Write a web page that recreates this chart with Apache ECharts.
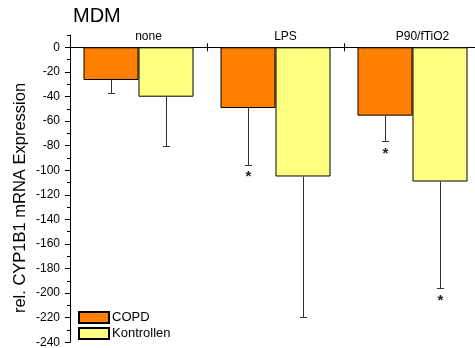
<!DOCTYPE html>
<html><head><meta charset="utf-8">
<script src="https://cdn.jsdelivr.net/npm/echarts@6/dist/echarts.min.js"></script>
<style>html,body{margin:0;padding:0;background:#fff}#c{width:475px;height:348px}</style>
</head><body><div id="c"></div>
<script>
var categories = ['none', 'LPS', 'P90/fTiO2'];
var copd = [-26.6, -49.4, -55.6];
var copdErrEnd = [-37.5, -95.6, -76.6];
var copdStar = [false, true, true];
var kontrollen = [-40.2, -105.1, -109.2];
var kontrollenErrEnd = [-80.3, -219.1, -196];
var kontrollenStar = [false, false, true];
var yTicks = [-240, -220, -200, -180, -160, -140, -120, -100, -80, -60, -40, -20, 0];

var FONT = 'Liberation Sans, Arial, sans-serif';
var BAR_W = 55;

function errData(vals, ends, stars) {
  return vals.map(function (v, i) { return [i, v, ends[i], stars[i] ? 1 : 0]; });
}
function makeErr(offsetSign) {
  return function (params, api) {
    var cat = api.value(0);
    var top = api.coord([cat, api.value(1)]);
    var bot = api.coord([cat, api.value(2)]);
    var x = Math.round(top[0] + offsetSign * BAR_W / 2) + 0.5;
    var yb = Math.round(bot[1]) + 0.5;
    var children = [
      { type: 'line', shape: { x1: x, y1: top[1], x2: x, y2: yb }, style: { stroke: '#333', lineWidth: 1 } },
      { type: 'line', shape: { x1: x - 3.5, y1: yb, x2: x + 3.5, y2: yb }, style: { stroke: '#333', lineWidth: 1 } }
    ];
    if (api.value(3)) {
      children.push({ type: 'text', style: { text: '*', x: x, y: bot[1] + 5, align: 'center', verticalAlign: 'top', font: 'bold 15px ' + FONT, fill: '#222' } });
    }
    return { type: 'group', children: children };
  };
}

var GL = 70, GW = 411;
var chart = echarts.init(document.getElementById('c'), null, { renderer: 'canvas' });
chart.setOption({
  animation: false,
  backgroundColor: '#fff',
  title: { text: 'MDM', left: 68, top: 1, textStyle: { fontFamily: FONT, fontSize: 20, fontWeight: 'normal', color: '#000' } },
  legend: {
    orient: 'vertical', left: 78, top: 311, padding: 0, itemWidth: 30, itemHeight: 11, itemGap: 3,
    icon: 'rect',
    data: ['COPD', 'Kontrollen'],
    textStyle: { fontFamily: FONT, fontSize: 13, color: '#000', padding: [0, 0, 0, -2] }
  },
  graphic: [{
    type: 'text', x: 20, y: 198, rotation: Math.PI / 2,
    style: { text: 'rel. CYP1B1 mRNA Expression', align: 'center', verticalAlign: 'middle', font: '16.5px ' + FONT, fill: '#000' }
  }],
  grid: [
    { left: GL, width: GW, top: 47.3, bottom: 5.7, outerBoundsMode: 'none', containLabel: false },
    { left: GL, width: GW, top: 35, bottom: 5.7, outerBoundsMode: 'none', containLabel: false },
    { left: GL, width: GW, top: 30, height: 17.3, outerBoundsMode: 'none', containLabel: false }
  ],
  xAxis: [
    {
      type: 'category', data: categories, gridIndex: 0, position: 'top',
      axisLine: { onZero: false, lineStyle: { color: '#000', width: 1 } },
      axisTick: { show: true, length: 4, lineStyle: { color: '#000' } },
      axisLabel: { fontFamily: FONT, fontSize: 12, color: '#000', margin: 5, padding: [0, 0, 0, 20] }
    },
    { type: 'category', data: categories, gridIndex: 1, show: false },
    {
      type: 'category', data: categories, gridIndex: 2, position: 'bottom',
      axisLine: { show: false, onZero: false },
      axisTick: { show: true, length: 4, lineStyle: { color: '#000' } },
      axisLabel: { show: false }
    }
  ],
  yAxis: [
    {
      type: 'value', gridIndex: 0, min: yTicks[0], max: yTicks[yTicks.length - 1], interval: 20,
      axisLine: { show: false },
      axisTick: { show: true, length: 5, lineStyle: { color: '#000' } },
      splitLine: { show: false },
      axisLabel: { show: false }
    },
    {
      type: 'value', gridIndex: 1, min: -240, max: 10, interval: 10,
      axisLine: { show: true, lineStyle: { color: '#000' } },
      axisTick: { show: true, length: 3, lineStyle: { color: '#000' } },
      splitLine: { show: false },
      axisLabel: {
        fontFamily: FONT, fontSize: 12, color: '#000', margin: 10,
        formatter: function (v) { return yTicks.indexOf(v) >= 0 ? String(v) : ''; }
      }
    },
    { type: 'value', gridIndex: 2, min: 0, max: 1, show: false }
  ],
  series: [
    {
      name: 'COPD', type: 'bar', xAxisIndex: 0, yAxisIndex: 0, data: copd, barWidth: BAR_W, barGap: '0%',
      itemStyle: { color: '#FF8000', borderColor: '#000', borderWidth: 1 }
    },
    {
      name: 'Kontrollen', type: 'bar', xAxisIndex: 0, yAxisIndex: 0, data: kontrollen, barWidth: BAR_W, barGap: '0%',
      itemStyle: { color: '#FFFF80', borderColor: '#000', borderWidth: 1 }
    },
    {
      type: 'custom', xAxisIndex: 0, yAxisIndex: 0, renderItem: makeErr(-1),
      data: errData(copd, copdErrEnd, copdStar), z: 5, silent: true
    },
    {
      type: 'custom', xAxisIndex: 0, yAxisIndex: 0, renderItem: makeErr(1),
      data: errData(kontrollen, kontrollenErrEnd, kontrollenStar), z: 5, silent: true
    }
  ]
});
</script>
</body></html>
